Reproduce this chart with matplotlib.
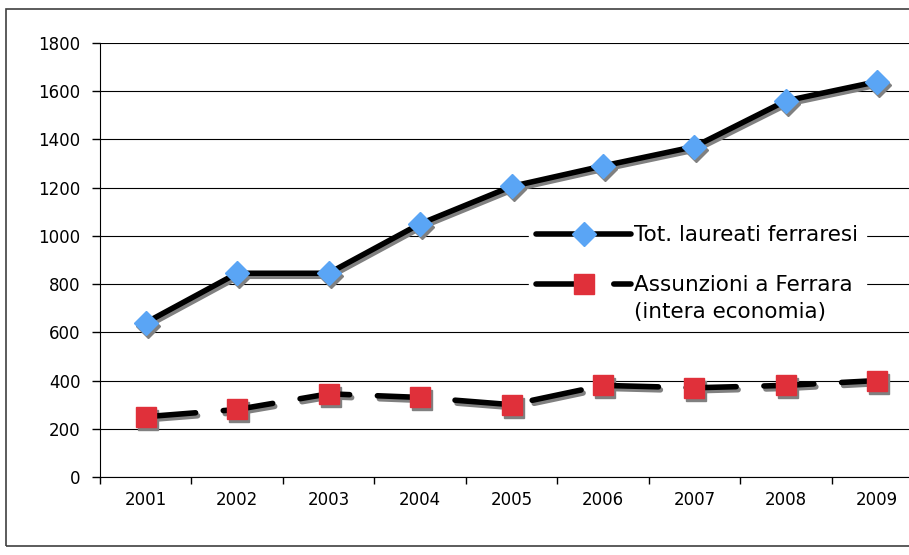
import matplotlib.pyplot as plt
import matplotlib.transforms as mtransforms
from matplotlib.patches import Rectangle
import numpy as np

years = ["2001", "2002", "2003", "2004", "2005", "2006", "2007", "2008", "2009"]
laureati = [640, 845, 845, 1050, 1205, 1290, 1370, 1560, 1640]
assunzioni = [250, 280, 345, 330, 300, 380, 370, 380, 400]
yticks = [0, 200, 400, 600, 800, 1000, 1200, 1400, 1600, 1800]

plt.rcParams['font.family'] = ['DejaVu Sans']

fig = plt.figure(figsize=(9.09, 5.55), dpi=100)
# outer chart border (right edge is cut off in the reference)
fig.patches.append(Rectangle((6/909, 9/555), 1.2, 537/555, transform=fig.transFigure,
                             fill=False, edgecolor="#404040", linewidth=1.2))

ax = fig.add_axes([100/909, 1 - 477/555, 823/909, 434/555])
x = np.arange(len(years))

# gray drop shadow, shifted a few pixels right/down
shift = ax.transData + mtransforms.ScaledTranslation(2/100, -3/100, fig.dpi_scale_trans)
gray = "#808080"

ax.plot(x, laureati, color=gray, linewidth=4, solid_capstyle="round",
        marker="D", markersize=12, markerfacecolor=gray, markeredgecolor=gray,
        transform=shift, zorder=2)
ax.plot(x, laureati, color="black", linewidth=4, solid_capstyle="round",
        marker="D", markersize=12, markerfacecolor="#5aa5f5", markeredgecolor="#5aa5f5",
        label="Tot. laureati ferraresi", zorder=3)

ax.plot(x, assunzioni, color=gray, linewidth=4, dash_capstyle="round",
        linestyle=(0, (9, 5)), marker="s", markersize=15,
        markerfacecolor=gray, markeredgecolor=gray, transform=shift, zorder=2)
ax.plot(x, assunzioni, color="black", linewidth=4, dash_capstyle="round",
        linestyle=(0, (9, 5)),
        marker="s", markersize=15, markerfacecolor="#e0303a", markeredgecolor="#e0303a",
        label="Assunzioni a Ferrara", zorder=3)

ax.set_xlim(-0.5, len(years) - 0.5)
ax.set_ylim(0, 1800)
ax.set_yticks(yticks)
ax.set_xticks(x)
ax.set_xticklabels(years)
ax.set_xticks(np.arange(len(years) + 1) - 0.5, minor=True)
ax.tick_params(axis="x", which="major", length=0, pad=10, labelsize=12)
ax.tick_params(axis="x", which="minor", length=5, width=1, direction="out")
ax.tick_params(axis="y", length=6, width=1, direction="out", pad=8, labelsize=12)

ax.grid(axis="y", color="black", linewidth=0.8)
ax.set_axisbelow(True)
for s in ["top", "right"]:
    ax.spines[s].set_visible(False)
for s in ["left", "bottom"]:
    ax.spines[s].set_color("black")
    ax.spines[s].set_linewidth(0.8)

leg = ax.legend(loc="upper left", bbox_to_anchor=(418/823, (477 - 207)/434),
                frameon=True, fontsize=15.5, handlelength=4.4, handletextpad=0.15,
                labelspacing=1.4, borderpad=0.35, fancybox=False)
leg.get_frame().set_edgecolor("white")
leg.get_frame().set_facecolor("white")
leg.get_frame().set_alpha(1)
leg.set_zorder(5)

# second line of the second legend label
ax.annotate("(intera economia)", xy=(0, 0), xycoords=leg.get_texts()[1],
            xytext=(0, -5), textcoords="offset points", va="top", ha="left",
            fontsize=15.5, zorder=6)

fig.savefig("out.png", dpi=100)
